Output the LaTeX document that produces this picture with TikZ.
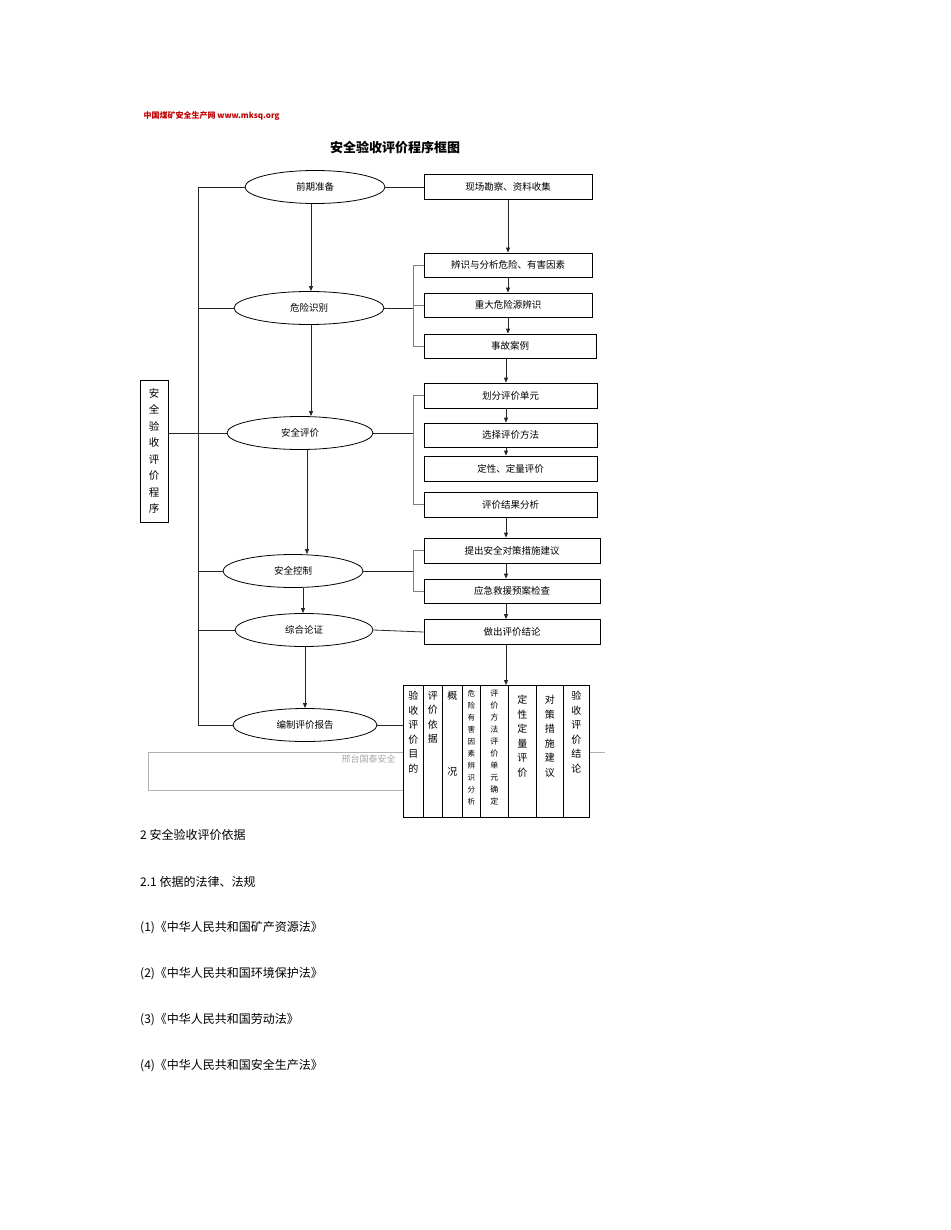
\documentclass[tikz,border=0pt]{standalone}
\usepackage{fontspec}
\setmainfont{Noto Sans CJK SC}
\usetikzlibrary{arrows.meta,shapes.geometric}
\begin{document}
\begin{tikzpicture}[x=1pt,y=-1pt,
  ell/.style={draw,thick,ellipse,minimum width=#1,minimum height=33,inner sep=0pt,font=\fontsize{9.5}{11}\selectfont},
  rbox/.style={draw,thick,rectangle,minimum height=25,inner sep=0pt,font=\fontsize{9.5}{11}\selectfont},
  ln/.style={draw,thick,black!85},
  arr/.style={ln,-{Triangle[length=5pt,width=4pt]}},
  col/.style={draw,thick,fill=white,minimum height=132,anchor=north west,inner sep=0pt},
  ctxt/.style={anchor=north,align=center,font=\fontsize{10}{14.5}\selectfont,inner sep=0pt},
  body/.style={anchor=west,font=\fontsize{12}{14}\selectfont,inner sep=0pt}]
\useasboundingbox (0,0) rectangle (950,1230);
\coordinate (x311) at (311,0);
\coordinate (x307) at (307,0);
\coordinate (x303) at (303,0);
\coordinate (x305) at (305,0);
\coordinate (x506) at (506,0);
\node[anchor=west,text=red!75!black,font=\bfseries\fontsize{8}{10}\selectfont] (hdr) at (140,116) {中国煤矿安全生产网 www.mksq.org};
\node[font=\bfseries\fontsize{13}{15}\selectfont] (title) at (395,148) {安全验收评价程序框图};
% footer artefact
\draw[gray!60] (148,752) -- (605,752);
\draw[gray!60] (148,790) -- (403,790);
\draw[gray!60] (148,752) -- (148,790);
\node[anchor=west,text=gray!70,font=\itshape\fontsize{9}{11}\selectfont] (ftr) at (338,759) {邢台国泰安全};
% ellipses
\node[ell=140] (e1) at (315,187) {前期准备};
\node[ell=150] (e2) at (309,308) {危险识别};
\node[ell=146] (e3) at (300,433) {安全评价};
\node[ell=140] (e4) at (293,571) {安全控制};
\node[ell=138] (e5) at (304,630) {综合论证};
\node[ell=144] (e6) at (305,725) {编制评价报告};
% left label box
\node[draw,thick,minimum width=28,minimum height=142,inner sep=0pt,align=center,font=\fontsize{10.5}{16.5}\selectfont] (lb) at (154,451) {安\\全\\验\\收\\评\\价\\程\\序};
% right boxes
\node[rbox,minimum width=168] (b1) at (508,187) {现场勘察、资料收集};
\node[rbox,minimum width=168,minimum height=24] (b2) at (508,265) {辨识与分析危险、有害因素};
\node[rbox,minimum width=168,minimum height=24] (b3) at (508,305) {重大危险源辨识};
\node[rbox,minimum width=172,minimum height=24] (b4) at (510,346) {事故案例};
\node[rbox,minimum width=173] (b5) at (510.5,395.5) {划分评价单元};
\node[rbox,minimum width=173,minimum height=24] (b6) at (510.5,435) {选择评价方法};
\node[rbox,minimum width=173] (b7) at (510.5,468.5) {定性、定量评价};
\node[rbox,minimum width=173] (b8) at (510.5,504.5) {评价结果分析};
\node[rbox,minimum width=176] (b9) at (512,550.5) {提出安全对策措施建议};
\node[rbox,minimum width=176,minimum height=24] (b10) at (512,591) {应急救援预案检查};
\node[rbox,minimum width=176] (b11) at (512,632) {做出评价结论};
% left spine
\coordinate (sT) at (198,187);
\coordinate (sB) at (198,725);
\draw[ln] (sT) -- (sB);
\draw[ln] (sT) -- (e1.west);
\draw[ln] (198,308) -- (e2.west);
\draw[ln] (lb.east |- e3) -- (e3.west);
\draw[ln] (198,571) -- (e4.west);
\draw[ln] (198,630) -- (e5.west);
\draw[ln] (sB) -- (e6.west);
% ellipse chain
\draw[arr] (e1.south -| x311) -- (e2.north -| x311);
\draw[arr] (e2.south -| x311) -- (e3.north -| x311);
\draw[arr] (e3.south -| x307) -- (e4.north -| x307);
\draw[arr] (e4.south -| x303) -- (e5.north -| x303);
\draw[arr] (e5.south -| x305) -- (e6.north -| x305);
% brackets
\draw[ln] (e1.east) -- (b1.west);
\draw[ln] (e2.east) -- (413,308);
\draw[ln,gray] (b2.west) -- (413,265) -- (413,346) -- (b4.west);
\draw[ln,gray] (413,305) -- (b3.west);
\draw[ln] (e3.east) -- (413,433);
\draw[ln,gray] (b5.west) -- (413,395.5) -- (413,504.5) -- (b8.west);
\draw[ln] (e4.east) -- (413,571);
\draw[ln,gray] (b9.west) -- (413,550.5) -- (413,591) -- (b10.west);
\draw[ln] (e5.east) -- (b11.west);
% right chain
\draw[arr] (b1.south) -- (b2.north -| b1.south);
\draw[arr] (b2.south) -- (b3.north);
\draw[arr] (b3.south) -- (b4.north -| b3.south);
\draw[arr] (b4.south -| x506) -- (b5.north -| x506);
\draw[arr] (b5.south -| x506) -- (b6.north -| x506);
\draw[arr] (b6.south -| x506) -- (b7.north -| x506);
\draw[arr] (b8.south -| x506) -- (b9.north -| x506);
\draw[arr] (b9.south -| x506) -- (b10.north -| x506);
\draw[arr] (b10.south -| x506) -- (b11.north -| x506);
% table
\node[col,minimum width=20] (c1) at (403,685) {};
\node[col,minimum width=19] (c2) at (423,685) {};
\node[col,minimum width=20] (c3) at (442,685) {};
\node[col,minimum width=18] (c4) at (462,685) {};
\node[col,minimum width=28] (c5) at (480,685) {};
\node[col,minimum width=28] (c6) at (508,685) {};
\node[col,minimum width=27] (c7) at (536,685) {};
\node[col,minimum width=26] (c8) at (563,685) {};
\draw[arr] (b11.south -| x506) -- (c5.north -| x506);
\draw[ln] (e6.east) -- (c1.west |- e6);
\node[ctxt] (t1) at ([yshift=-6]c1.north) {验\\收\\评\\价\\目\\的};
\node[ctxt] (t2) at ([yshift=-6]c2.north) {评\\价\\依\\据};
\node[ctxt] (t3a) at ([yshift=-6]c3.north) {概};
\node[ctxt] (t3b) at ([yshift=50]c3.south) {况};
\node[ctxt,font=\fontsize{7.5}{12}\selectfont] (t4) at ([yshift=-5]c4.north) {危\\险\\有\\害\\因\\素\\辨\\识\\分\\析};
\node[ctxt,font=\fontsize{8}{12}\selectfont] (t5) at ([yshift=-5]c5.north) {评\\价\\方\\法\\评\\价\\单\\元\\确\\定};
\node[ctxt] (t6) at ([yshift=-10]c6.north) {定\\性\\定\\量\\评\\价};
\node[ctxt] (t7) at ([yshift=-10]c7.north) {对\\策\\措\\施\\建\\议};
\node[ctxt] (t8) at ([yshift=-6]c8.north) {验\\收\\评\\价\\结\\论};
% body text
\node[body] (p1) at (140,835) {2 安全验收评价依据};
\node[body] (p2) at (140,882) {2.1 依据的法律、法规};
\node[body] (p3) at (140,928) {(1)《中华人民共和国矿产资源法》};
\node[body] (p4) at (140,974) {(2)《中华人民共和国环境保护法》};
\node[body] (p5) at (140,1020) {(3)《中华人民共和国劳动法》};
\node[body] (p6) at (140,1066) {(4)《中华人民共和国安全生产法》};
\end{tikzpicture}
\end{document}
